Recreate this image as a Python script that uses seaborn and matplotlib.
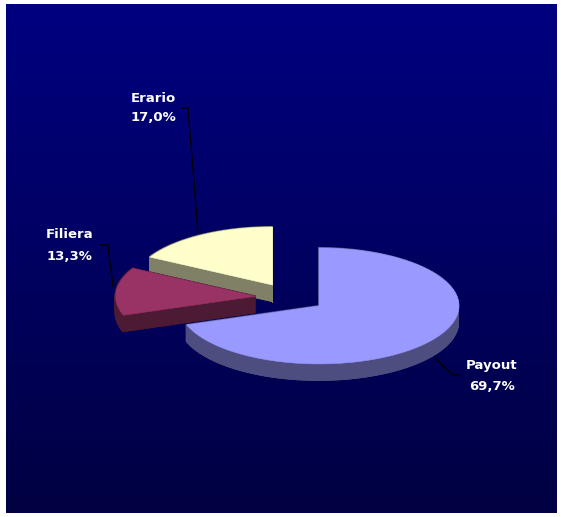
import numpy as np
import matplotlib
matplotlib.use("Agg")
import matplotlib.pyplot as plt
from matplotlib.collections import PolyCollection
import seaborn as sns

sns.set_theme(style="white")
plt.rcParams["font.family"] = ["DejaVu Sans"]

# Slice data (clockwise from 12 o'clock)
labels = ["Payout", "Filiera", "Erario"]
values = [69.7, 13.3, 17.0]
value_text = ["69,7%", "13,3%", "17,0%"]
top_colors = ["#9999FF", "#993366", "#FFFFCC"]
side_colors = ["#4D4D80", "#4D1A33", "#808066"]

W, H = 561, 517
fig = plt.figure(figsize=(W / 100, H / 100), dpi=100)
fig.patch.set_facecolor("white")

# plot area in pixel units (y grows downward)
left, top, right, bottom = 6, 4, 557, 513
ax = fig.add_axes([left / W, 1 - bottom / H, (right - left) / W, (bottom - top) / H])
ax.set_xlim(left, right)
ax.set_ylim(bottom, top)
ax.axis("off")

# vertical navy gradient backdrop
grad = np.linspace(0, 1, 256)[:, None]
c0 = np.array([0, 0, 128]) / 255
c1 = np.array([0, 0, 66]) / 255
img = (c0[None, None, :] * (1 - grad[..., None]) + c1[None, None, :] * grad[..., None])
ax.imshow(img, extent=[left, right, bottom, top], aspect="auto", zorder=0)

# pie geometry
cx, cy = 290.0, 297.0
ra, rb = 140, 58
depth = 17
explode = 0.25

fracs = np.array(values) / np.sum(values)
starts = 90 - 360 * np.concatenate([[0], np.cumsum(fracs)[:-1]])
ends = starts - 360 * fracs


def pt(ox, oy, ang):
    r = np.deg2rad(ang)
    return ox + ra * np.cos(r), oy - rb * np.sin(r)


slices = []
for i in range(len(values)):
    mid = np.deg2rad((starts[i] + ends[i]) / 2)
    ox = cx + explode * ra * np.cos(mid)
    oy = cy - explode * rb * np.sin(mid)
    angs = np.linspace(starts[i], ends[i], max(int(abs(starts[i] - ends[i])), 8))
    xs, ys = pt(ox, oy, angs)
    poly = np.vstack([[ox, oy], np.column_stack([xs, ys])])
    slices.append(poly)

# back-to-front drawing order
order = [2, 1, 0]
z = 2
for i in order:
    poly = slices[i]
    closed = np.vstack([poly, poly[:1]])
    quads = []
    for p, q in zip(closed[:-1], closed[1:]):
        quads.append([p, q, q + [0, depth], p + [0, depth]])
    quads.append(poly + [0, depth])
    pc = PolyCollection(quads, facecolors=side_colors[i], edgecolors=side_colors[i],
                        linewidths=0.6, zorder=z)
    ax.add_collection(pc)
    z += 1
    top_pc = PolyCollection([poly], facecolors=top_colors[i], edgecolors=top_colors[i],
                            linewidths=0.4, zorder=z)
    ax.add_collection(top_pc)
    z += 1

# leader lines and labels
leaders = {
    "Payout": [(435, 358), (453, 375), (460, 375)],
    "Filiera": [(100, 245), (108, 245), (113, 287)],
    "Erario": [(182, 108), (188, 108), (198, 232)],
}
label_pos = {
    "Payout": (492, 366, 387),
    "Filiera": (70, 235, 256),
    "Erario": (153, 98, 117.5),
}
for i, name in enumerate(labels):
    xs, ys = zip(*leaders[name])
    ax.plot(xs, ys, color="black", lw=1.0, zorder=20)
    x, y1, y2 = label_pos[name]
    ax.text(x, y1, name, color="white", fontsize=9.5, fontweight="bold",
            ha="center", va="center", zorder=21)
    ax.text(x, y2, value_text[i], color="white", fontsize=9.5, fontweight="bold",
            ha="center", va="center", zorder=21)

fig.savefig("out.png", dpi=100, facecolor="white")
